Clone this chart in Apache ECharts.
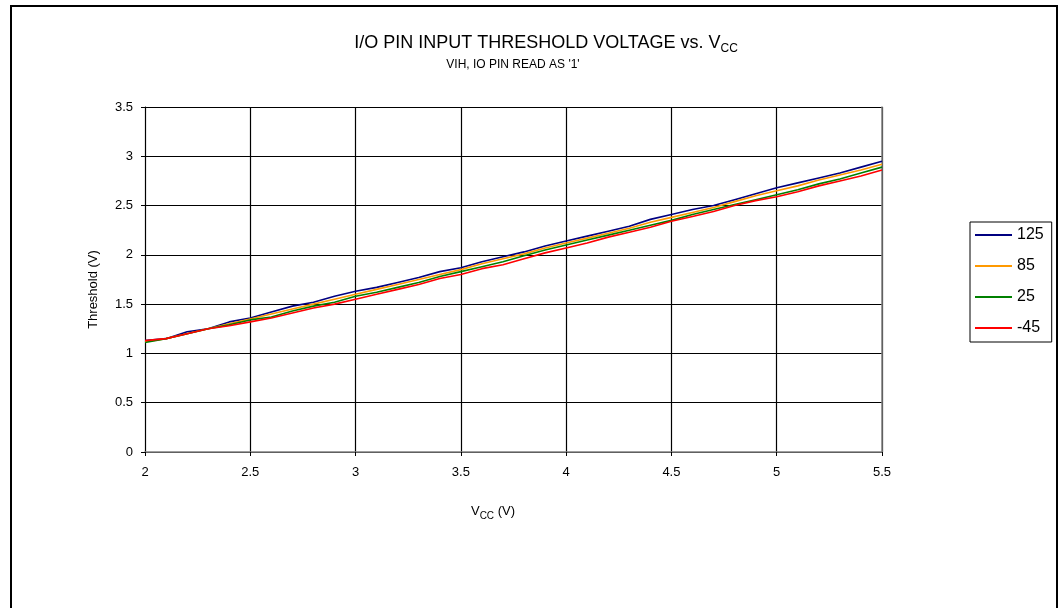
<!DOCTYPE html>
<html>
<head>
<meta charset="utf-8">
<script src="https://cdn.jsdelivr.net/npm/echarts@6/dist/echarts.min.js"></script>
<style>
html,body{margin:0;padding:0;background:#fff;}
#chart{width:1062px;height:608px;}
</style>
</head>
<body>
<div id="chart"></div>
<script>
const vcc = [2.0,2.1,2.2,2.3,2.4,2.5,2.6,2.7,2.8,2.9,3.0,3.1,3.2,3.3,3.4,3.5,3.6,3.7,3.8,3.9,4.0,4.1,4.2,4.3,4.4,4.5,4.6,4.7,4.8,4.9,5.0,5.1,5.2,5.3,5.4,5.5];
const t125 = [1.13,1.15,1.22,1.25,1.32,1.36,1.42,1.48,1.52,1.58,1.63,1.67,1.72,1.77,1.83,1.87,1.93,1.98,2.03,2.09,2.14,2.19,2.24,2.29,2.36,2.41,2.46,2.50,2.56,2.62,2.68,2.73,2.78,2.83,2.89,2.95];
const t85  = [1.12,1.15,1.20,1.25,1.30,1.35,1.40,1.45,1.50,1.55,1.60,1.65,1.70,1.75,1.80,1.85,1.91,1.96,2.01,2.07,2.12,2.17,2.22,2.27,2.33,2.38,2.43,2.48,2.54,2.60,2.65,2.70,2.76,2.81,2.86,2.92];
const t25  = [1.11,1.15,1.20,1.25,1.29,1.34,1.37,1.43,1.48,1.52,1.58,1.62,1.67,1.72,1.78,1.83,1.88,1.93,1.99,2.05,2.10,2.15,2.20,2.25,2.30,2.35,2.41,2.46,2.51,2.56,2.61,2.66,2.72,2.77,2.83,2.89];
const tm45 = [1.13,1.15,1.20,1.25,1.28,1.32,1.36,1.41,1.46,1.50,1.55,1.60,1.65,1.70,1.76,1.80,1.86,1.90,1.96,2.02,2.07,2.12,2.18,2.23,2.28,2.34,2.39,2.44,2.50,2.55,2.59,2.64,2.70,2.75,2.80,2.86];
const seriesNames = ['125','85','25','-45'];
const seriesColors = ['#000080','#FF9900','#008000','#FF0000'];
const seriesValues = [t125,t85,t25,tm45];

const FONT = 'Liberation Sans, Arial, sans-serif';
const chart = echarts.init(document.getElementById('chart'), null, {renderer:'canvas'});

const series = seriesNames.map((n,i)=>({
  name:n, type:'line', xAxisIndex:0, yAxisIndex:0,
  data: vcc.map((x,j)=>[x, seriesValues[i][j]]),
  symbol:'none', smooth:false,
  lineStyle:{color:seriesColors[i], width:1.6},
  itemStyle:{color:seriesColors[i]},
  z:5
}));

const option = {
  backgroundColor:'#fff',
  animation:false,
  title:[
    {text:'{a|I/O PIN INPUT THRESHOLD VOLTAGE vs. V}{b|CC}', left:541, top:27, textAlign:'center',
     textStyle:{fontWeight:'normal',
                rich:{a:{fontFamily:FONT,fontSize:18,fontWeight:'normal',color:'#000',verticalAlign:'bottom',lineHeight:20},
                      b:{fontFamily:FONT,fontSize:12,fontWeight:'normal',color:'#000',verticalAlign:'bottom',lineHeight:14,padding:[0,0,-3,0]}}}},
    {text:"VIH, IO PIN READ AS '1'", left:508, top:54, textAlign:'center',
     textStyle:{fontFamily:FONT,fontSize:12,fontWeight:'normal',color:'#000'}},
    {text:'{a|V}{b|CC}{a| (V)}', left:488, top:497, textAlign:'center',
     textStyle:{fontWeight:'normal',
                rich:{a:{fontFamily:FONT,fontSize:13,fontWeight:'normal',color:'#000',verticalAlign:'bottom',lineHeight:16},
                      b:{fontFamily:FONT,fontSize:10,fontWeight:'normal',color:'#000',verticalAlign:'bottom',lineHeight:12,padding:[0,0,-3,0]}}}}
  ],
  legend:{
    orient:'vertical', left:970, top:222,
    data:seriesNames,
    icon:'rect', itemWidth:37, itemHeight:2, itemGap:13, itemTextGap:3,
    backgroundColor:'#fff', borderColor:'#000', borderWidth:1,
    padding:[4,8,5,5],
    textStyle:{fontFamily:FONT,fontSize:16,color:'#000',lineHeight:18}
  },
  grid:{left:145, right:180, top:107, bottom:156, containLabel:false},
  xAxis:[
    {type:'value', min:2, max:5.5, interval:0.5, position:'bottom',
     axisLine:{show:true,lineStyle:{color:'#000',width:1}},
     axisTick:{show:true,inside:false,length:4,lineStyle:{color:'#000'}},
     axisLabel:{color:'#000',fontFamily:FONT,fontSize:13,margin:14},
     splitLine:{show:true,lineStyle:{color:'#000',width:1.2}}},
    {type:'value', min:2, max:5.5, interval:0.5, position:'top',
     axisLine:{show:true,lineStyle:{color:'#808080',width:1.5}},
     axisTick:{show:false}, axisLabel:{show:false}, splitLine:{show:false}}
  ],
  yAxis:[
    {type:'value', min:0, max:3.5, interval:0.5, position:'left',
     name:'Threshold (V)', nameLocation:'middle', nameGap:45, nameRotate:90,
     nameTextStyle:{fontFamily:FONT,fontSize:13,color:'#000',padding:[0,20,0,0]},
     axisLine:{show:true,lineStyle:{color:'#000',width:1}},
     axisTick:{show:true,inside:false,length:4,lineStyle:{color:'#000'}},
     axisLabel:{color:'#000',fontFamily:FONT,fontSize:13,margin:12},
     splitLine:{show:true,lineStyle:{color:'#000',width:1.2}}},
    {type:'value', min:0, max:3.5, interval:0.5, position:'right',
     axisLine:{show:true,lineStyle:{color:'#808080',width:1.5}},
     axisTick:{show:false}, axisLabel:{show:false}, splitLine:{show:false}}
  ],
  graphic:[
    {type:'rect', shape:{x:11, y:6, width:1046, height:700},
     style:{fill:'none', stroke:'#000', lineWidth:2}, silent:true, z:-1}
  ],
  series:series
};
chart.setOption(option);
</script>
</body>
</html>
